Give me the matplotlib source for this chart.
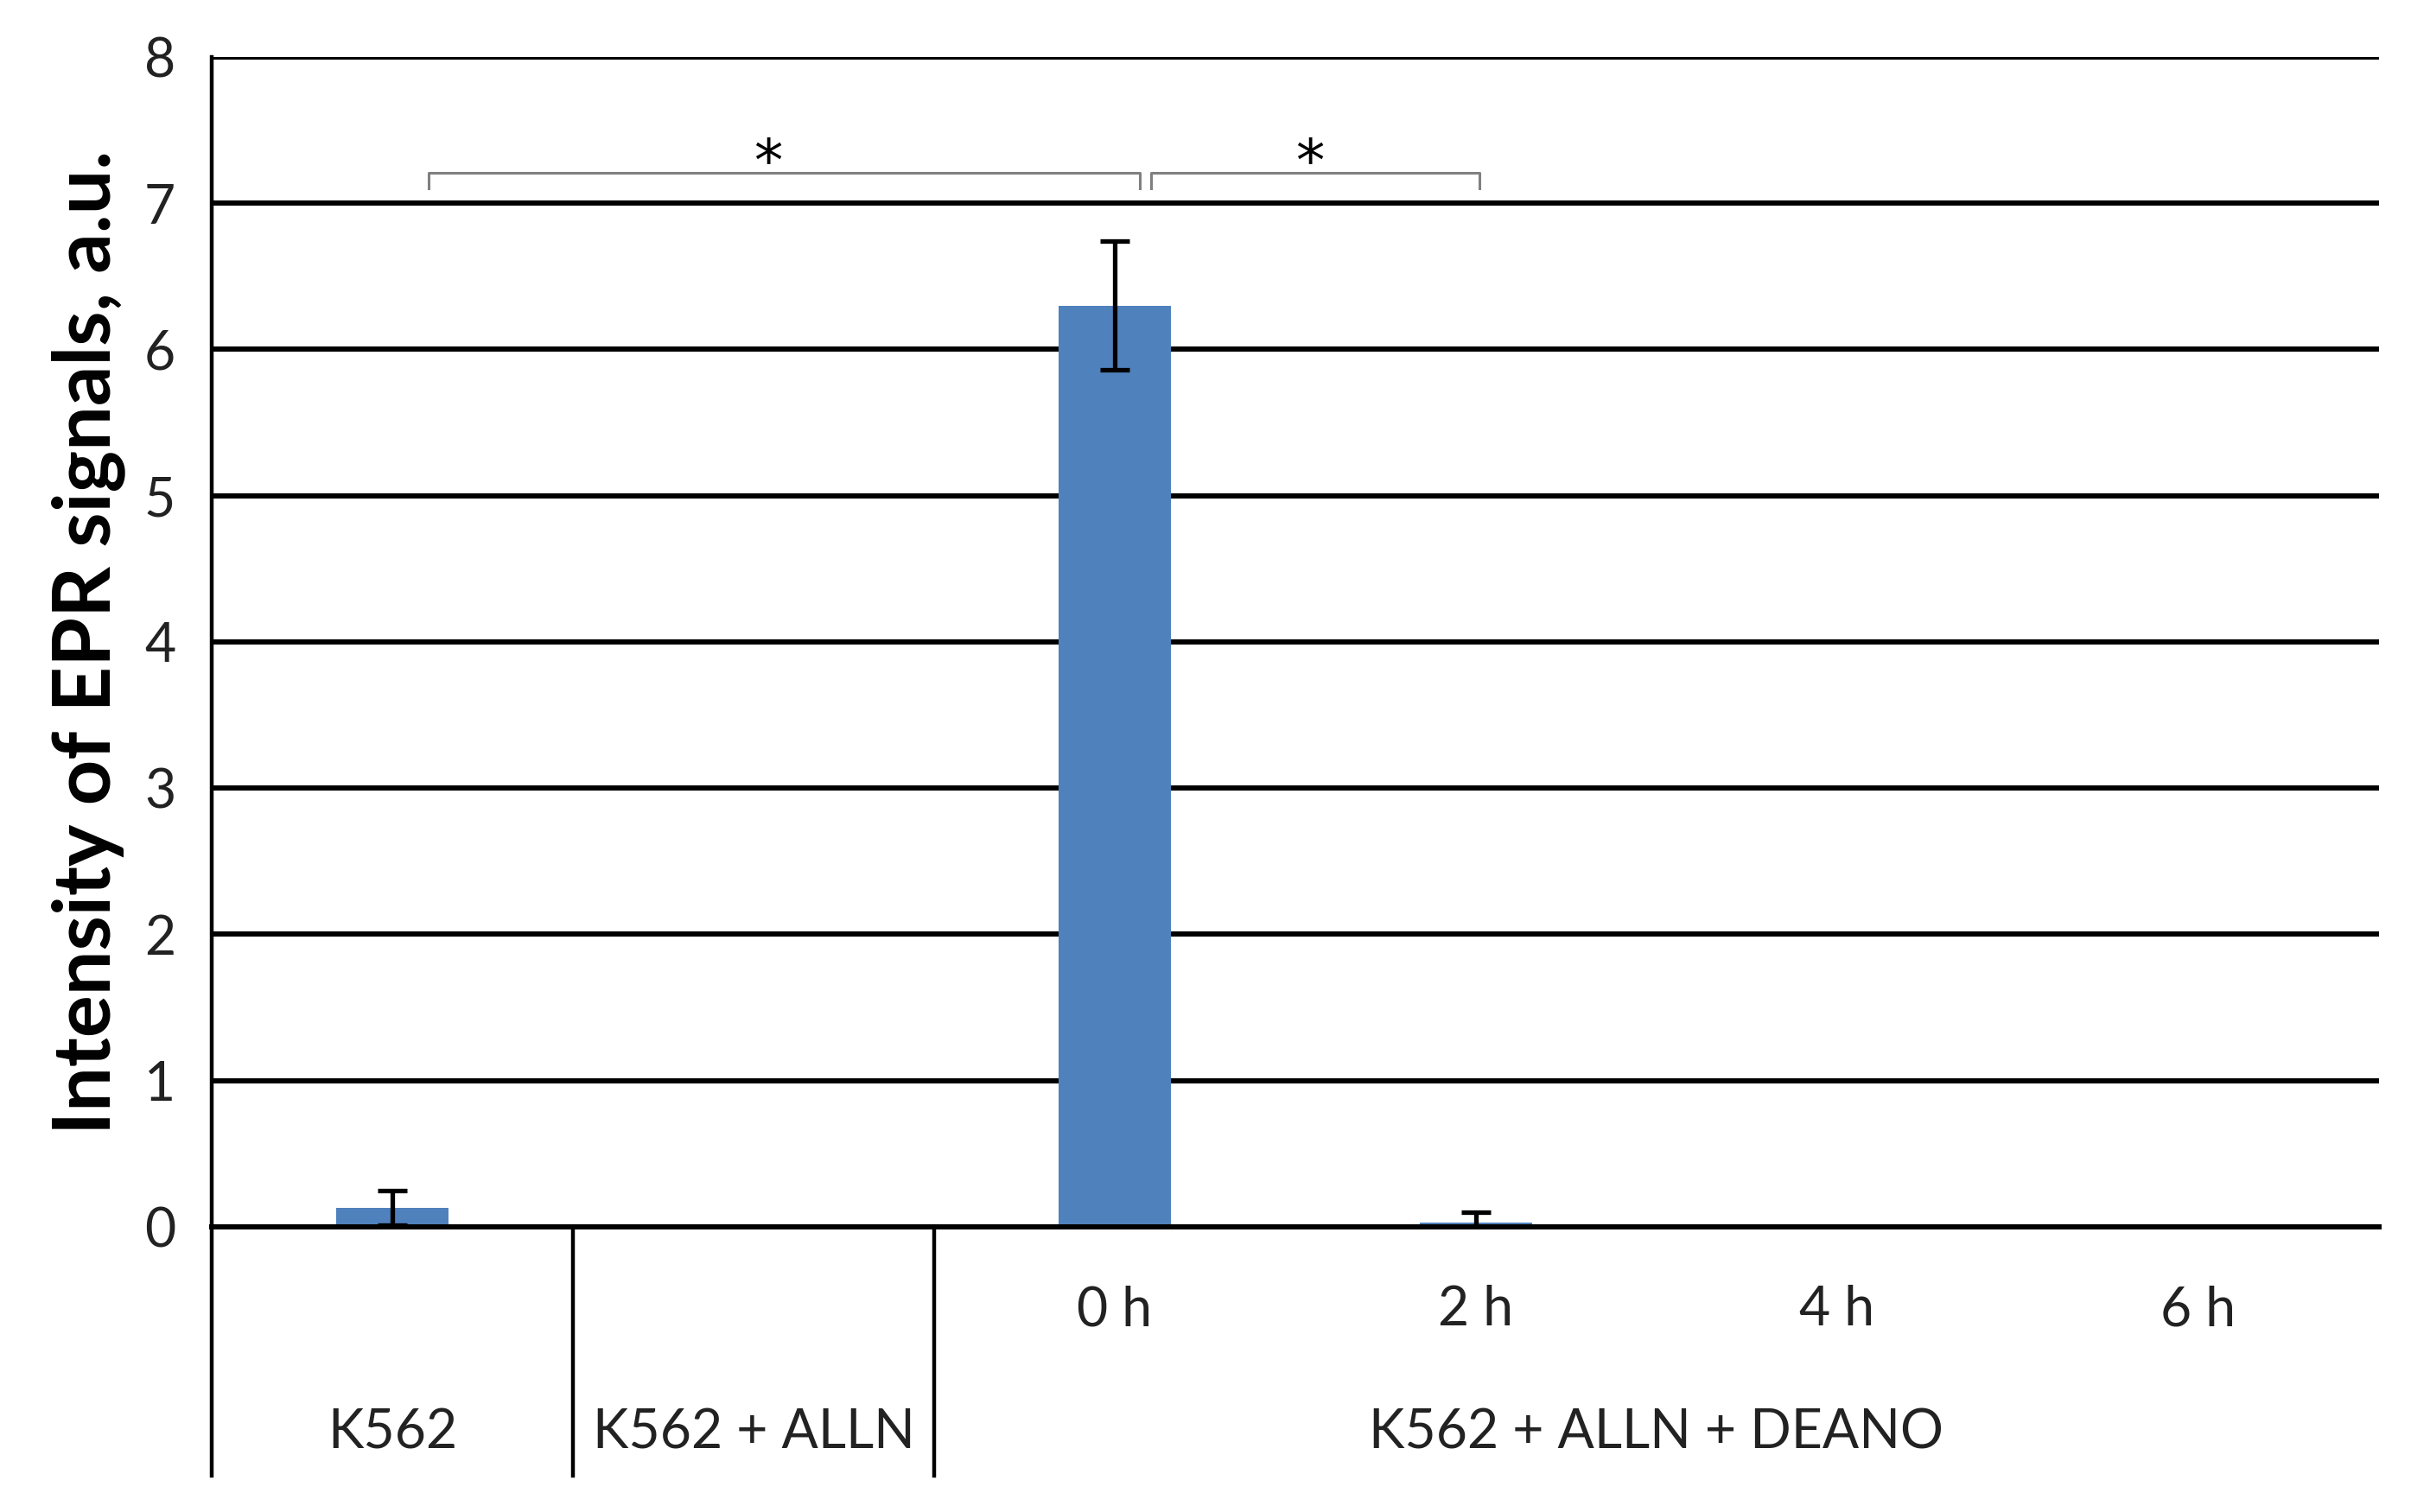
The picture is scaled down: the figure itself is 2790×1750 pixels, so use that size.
import matplotlib
matplotlib.use("Agg")
import matplotlib.pyplot as plt
import matplotlib.transforms as mtransforms

# chart values
conditions = ["K562", "K562 + ALLN", "0 h", "2 h", "4 h", "6 h"]
intensity = [0.13, 0.0, 6.30, 0.03, 0.0, 0.0]
errors = [0.12, 0.0, 0.44, 0.07, 0.0, 0.0]
group_labels = ["K562", "K562 + ALLN", "K562 + ALLN + DEANO"]
time_labels = ["", "", "0 h", "2 h", "4 h", "6 h"]
y_ticks = [0, 1, 2, 3, 4, 5, 6, 7, 8]

plt.rcParams['font.family'] = ['Lato', 'DejaVu Sans']

fig = plt.figure(figsize=(27.9, 17.5), dpi=100)
ax = fig.add_axes([0.0878, 0.1886, 0.8989, 0.7737])

x = list(range(len(conditions)))
ax.bar(x, intensity, width=0.31, color="#4F81BD", zorder=2)
for xi, v, e in zip(x, intensity, errors):
    if e > 0:
        ax.errorbar(xi, v, yerr=e, fmt="none", ecolor="black", elinewidth=3.8,
                    capsize=12, capthick=3.8, zorder=3)

ax.set_xlim(-0.5, len(conditions) - 0.5)
ax.set_ylim(0, 8)
ax.set_yticks(y_ticks)
ax.set_yticklabels([str(t) for t in y_ticks], fontsize=45, color="#222222")
ax.set_xticks([])
ax.tick_params(axis="y", length=0, pad=30)
ax.set_axisbelow(True)
ax.yaxis.grid(True, color="black", linewidth=4.3)
for side in ["top", "right"]:
    ax.spines[side].set_visible(False)
ax.spines["bottom"].set_linewidth(4.3)
ax.spines["left"].set_linewidth(3.2)

ax.set_ylabel("Intensity of EPR signals, a.u.", fontsize=66, fontweight="bold", labelpad=16)

# category table under the axis
trans = mtransforms.blended_transform_factory(ax.transData, ax.transAxes)
for xi, lab in zip(x, time_labels):
    if lab:
        ax.text(xi, -0.071, lab, transform=trans, ha="center", va="center", fontsize=45, color="#222222")
group_x = [0, 1, 3.5]
for gx, lab in zip(group_x, group_labels):
    ax.text(gx, -0.176, lab, transform=trans, ha="center", va="center", fontsize=45, color="#222222")
for sx in [-0.5, 0.5, 1.5]:
    ax.plot([sx, sx], [0, -0.2127], transform=trans, color="black", lw=3.2, clip_on=False)

# significance brackets
brackets = [(0.10, 2.07, 1.04), (2.10, 3.01, 2.54)]
for x0, x1, xs in brackets:
    ax.plot([x0, x0, x1, x1], [7.1, 7.21, 7.21, 7.1], color="#808080", lw=2.2, zorder=4)
    ax.text(xs, 7.27, "*", ha="center", va="center", fontsize=48, color="black",
            family="DejaVu Sans")

fig.savefig("out.png", dpi=100, facecolor="white")
